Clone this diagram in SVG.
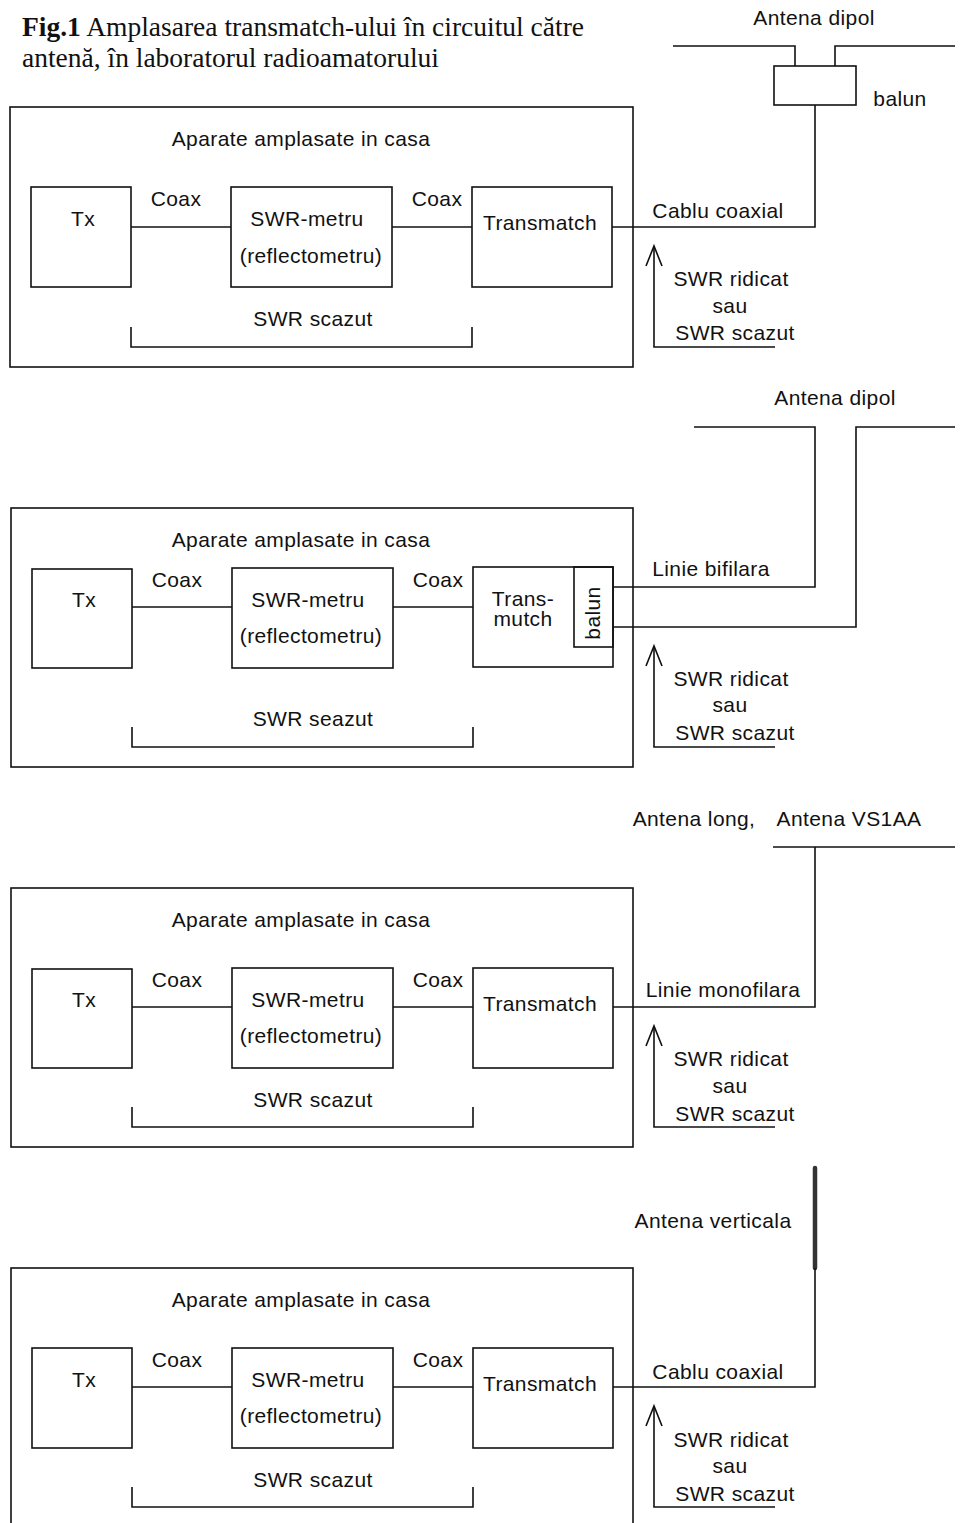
<svg xmlns="http://www.w3.org/2000/svg" width="961" height="1523" viewBox="0 0 961 1523">
<style>
.t{font-family:"Liberation Sans",Arial,sans-serif;font-size:21px;letter-spacing:0.4px;fill:#111;text-anchor:middle}
.ttl{font-family:"Liberation Serif","Times New Roman",serif;font-size:27.5px;fill:#111}
.b{fill:none;stroke:#111;stroke-width:1.6}
.w{fill:none;stroke:#111;stroke-width:1.6}
</style>
<rect width="961" height="1523" fill="#fff"/>
<text class="ttl" x="22" y="36"><tspan font-weight="bold">Fig.1</tspan> Amplasarea transmatch-ului în circuitul către</text>
<text class="ttl" x="22" y="67">antenă, în laboratorul radioamatorului</text>

<!-- Panel 1 -->
<g id="panel1">
<rect class="b" x="10" y="107" width="623" height="260"/>
<text class="t" x="301" y="146">Aparate amplasate in casa</text>
</g>
<g id="tx1"><rect class="b" x="31" y="187" width="100" height="100"/><text class="t" x="83" y="226">Tx</text></g>
<g id="swr1"><rect class="b" x="231" y="187" width="161" height="100"/><text class="t" x="307" y="226">SWR-metru</text><text class="t" x="311" y="263">(reflectometru)</text></g>
<g id="tm1"><rect class="b" x="472" y="187" width="140" height="100"/><text class="t" x="540" y="230">Transmatch</text></g>
<g id="balun1"><rect class="b" x="774" y="66" width="82" height="39"/><text class="t" x="900" y="106">balun</text></g>
<g id="ant1"><text class="t" x="814" y="25">Antena dipol</text></g>
<g id="conn1">
<line class="w" x1="131" y1="227" x2="231" y2="227"/>
<line class="w" x1="392" y1="227" x2="472" y2="227"/>
<polyline class="w" points="612,227 815,227 815,105"/>
<polyline class="w" points="673,46 795,46 795,66"/>
<polyline class="w" points="955,46 835,46 835,66"/>
<polyline class="w" points="131,327 131,347 472,347 472,327"/>
<polyline class="w" points="775,347 654,347 654,246"/>
<polyline class="w" points="646,266 654,246 662,266"/>
</g>
<text class="t" x="176" y="206">Coax</text>
<text class="t" x="437" y="206">Coax</text>
<text class="t" x="718" y="218">Cablu coaxial</text>
<text class="t" x="313" y="326">SWR scazut</text>
<text class="t" x="731" y="286">SWR ridicat</text>
<text class="t" x="730" y="313">sau</text>
<text class="t" x="735" y="340">SWR scazut</text>

<!-- Panel 2 -->
<g id="panel2">
<rect class="b" x="11" y="508" width="622" height="259"/>
<text class="t" x="301" y="547">Aparate amplasate in casa</text>
</g>
<g id="tx2"><rect class="b" x="32" y="569" width="100" height="99"/><text class="t" x="84" y="607">Tx</text></g>
<g id="swr2"><rect class="b" x="232" y="568" width="161" height="100"/><text class="t" x="308" y="607">SWR-metru</text><text class="t" x="311" y="643">(reflectometru)</text></g>
<g id="tm2"><rect class="b" x="473" y="567" width="140" height="100"/><text class="t" x="523" y="606">Trans-</text><text class="t" x="523" y="626">mutch</text></g>
<g id="balun2"><rect class="b" x="574" y="567" width="39" height="80"/><text class="t" transform="translate(600,613) rotate(-90)">balun</text></g>
<g id="ant2"><text class="t" x="835" y="405">Antena dipol</text></g>
<g id="conn2">
<line class="w" x1="132" y1="607" x2="232" y2="607"/>
<line class="w" x1="393" y1="607" x2="473" y2="607"/>
<polyline class="w" points="613,587 815,587 815,427 694,427"/>
<polyline class="w" points="613,627 856,627 856,427 955,427"/>
<polyline class="w" points="132,727 132,747 473,747 473,727"/>
<polyline class="w" points="775,747 654,747 654,646"/>
<polyline class="w" points="646,666 654,646 662,666"/>
</g>
<text class="t" x="177" y="587">Coax</text>
<text class="t" x="438" y="587">Coax</text>
<text class="t" x="711" y="576">Linie bifilara</text>
<text class="t" x="313" y="726">SWR seazut</text>
<text class="t" x="731" y="686">SWR ridicat</text>
<text class="t" x="730" y="712">sau</text>
<text class="t" x="735" y="740">SWR scazut</text>

<!-- Panel 3 -->
<g id="panel3">
<rect class="b" x="11" y="888" width="622" height="259"/>
<text class="t" x="301" y="927">Aparate amplasate in casa</text>
</g>
<g id="tx3"><rect class="b" x="32" y="969" width="100" height="99"/><text class="t" x="84" y="1007">Tx</text></g>
<g id="swr3"><rect class="b" x="232" y="968" width="161" height="100"/><text class="t" x="308" y="1007">SWR-metru</text><text class="t" x="311" y="1043">(reflectometru)</text></g>
<g id="tm3"><rect class="b" x="473" y="968" width="140" height="100"/><text class="t" x="540" y="1011">Transmatch</text></g>
<g id="ant3"><text class="t" x="694" y="826">Antena long,</text><text class="t" x="849" y="826">Antena VS1AA</text></g>
<g id="conn3">
<line class="w" x1="132" y1="1007" x2="232" y2="1007"/>
<line class="w" x1="393" y1="1007" x2="473" y2="1007"/>
<polyline class="w" points="613,1007 815,1007 815,847"/>
<line class="w" x1="773" y1="847" x2="955" y2="847"/>
<polyline class="w" points="132,1107 132,1127 473,1127 473,1107"/>
<polyline class="w" points="775,1127 654,1127 654,1026"/>
<polyline class="w" points="646,1046 654,1026 662,1046"/>
</g>
<text class="t" x="177" y="987">Coax</text>
<text class="t" x="438" y="987">Coax</text>
<text class="t" x="723" y="997">Linie monofilara</text>
<text class="t" x="313" y="1107">SWR scazut</text>
<text class="t" x="731" y="1066">SWR ridicat</text>
<text class="t" x="730" y="1093">sau</text>
<text class="t" x="735" y="1121">SWR scazut</text>

<!-- Panel 4 -->
<g id="panel4">
<rect class="b" x="11" y="1268" width="622" height="270"/>
<text class="t" x="301" y="1307">Aparate amplasate in casa</text>
</g>
<g id="tx4"><rect class="b" x="32" y="1348" width="100" height="100"/><text class="t" x="84" y="1387">Tx</text></g>
<g id="swr4"><rect class="b" x="232" y="1348" width="161" height="100"/><text class="t" x="308" y="1387">SWR-metru</text><text class="t" x="311" y="1423">(reflectometru)</text></g>
<g id="tm4"><rect class="b" x="473" y="1348" width="140" height="100"/><text class="t" x="540" y="1391">Transmatch</text></g>
<g id="ant4"><line x1="815" y1="1168" x2="815" y2="1268" stroke="#333" stroke-width="4.5" stroke-linecap="round"/><text class="t" x="713" y="1228">Antena verticala</text></g>
<g id="conn4">
<line class="w" x1="132" y1="1387" x2="232" y2="1387"/>
<line class="w" x1="393" y1="1387" x2="473" y2="1387"/>
<polyline class="w" points="613,1387 815,1387 815,1268"/>
<polyline class="w" points="132,1487 132,1507 473,1507 473,1487"/>
<polyline class="w" points="775,1507 654,1507 654,1406"/>
<polyline class="w" points="646,1426 654,1406 662,1426"/>
</g>
<text class="t" x="177" y="1367">Coax</text>
<text class="t" x="438" y="1367">Coax</text>
<text class="t" x="718" y="1379">Cablu coaxial</text>
<text class="t" x="313" y="1487">SWR scazut</text>
<text class="t" x="731" y="1447">SWR ridicat</text>
<text class="t" x="730" y="1473">sau</text>
<text class="t" x="735" y="1501">SWR scazut</text>
</svg>
